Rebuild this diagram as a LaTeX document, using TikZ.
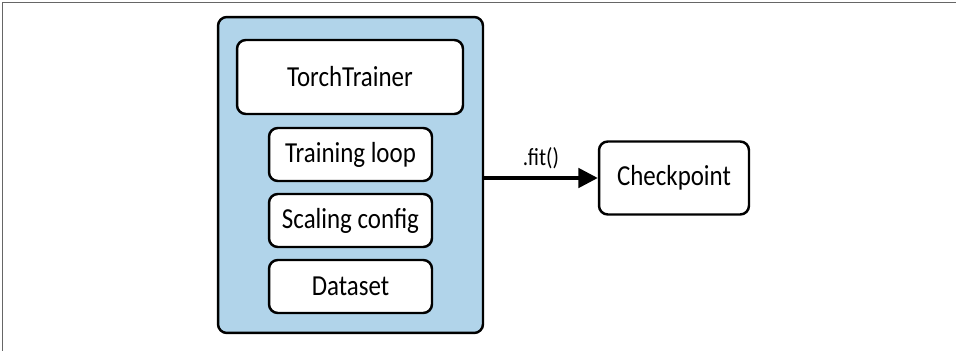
\documentclass[tikz,border=0pt]{standalone}
\usepackage{fontspec}
\setmainfont{Carlito}[FakeStretch=0.86]
\usetikzlibrary{arrows.meta}
\definecolor{trainblue}{HTML}{B1D4EA}
\tikzset{
  box/.style={draw, line width=1.4pt, rounded corners=5pt, fill=white, font=\fontsize{16.5}{19}\selectfont},
}
\begin{document}
\begin{tikzpicture}[x=0.02cm, y=-0.02cm]
      \useasboundingbox (0, 0) rectangle (956, 351);
      \draw [black!60, line width=1.1pt] (2.5, 351) -- (2.5, 2.5) -- (956, 2.5);
      \node [box, fill=trainblue, minimum width=5.3cm, minimum height=6.32cm] (trainer) at (350.5, 175) {};
      \node [box, minimum width=4.52cm, minimum height=1.48cm] (torch) at (350, 77) {TorchTrainer};
      \node [box, minimum width=3.26cm, minimum height=1.06cm] (loop) at (350.5, 154.5) {Training loop};
      \node [box, minimum width=3.26cm, minimum height=1.06cm] (scaling) at (350.5, 220.5) {Scaling config};
      \node [box, minimum width=3.26cm, minimum height=1.06cm] (dataset) at (350.5, 286.5) {Dataset};
      \node [box, minimum width=3cm, minimum height=1.46cm] (ckpt) at (674, 178) {Checkpoint};
      \draw [-{Triangle[length=11pt, width=11pt]}, line width=2pt] (ckpt.west -| trainer.east) -- node [above, yshift=1pt, font=\fontsize{14}{16}\selectfont] {.fit()} (ckpt.west);
    \end{tikzpicture}
\end{document}
